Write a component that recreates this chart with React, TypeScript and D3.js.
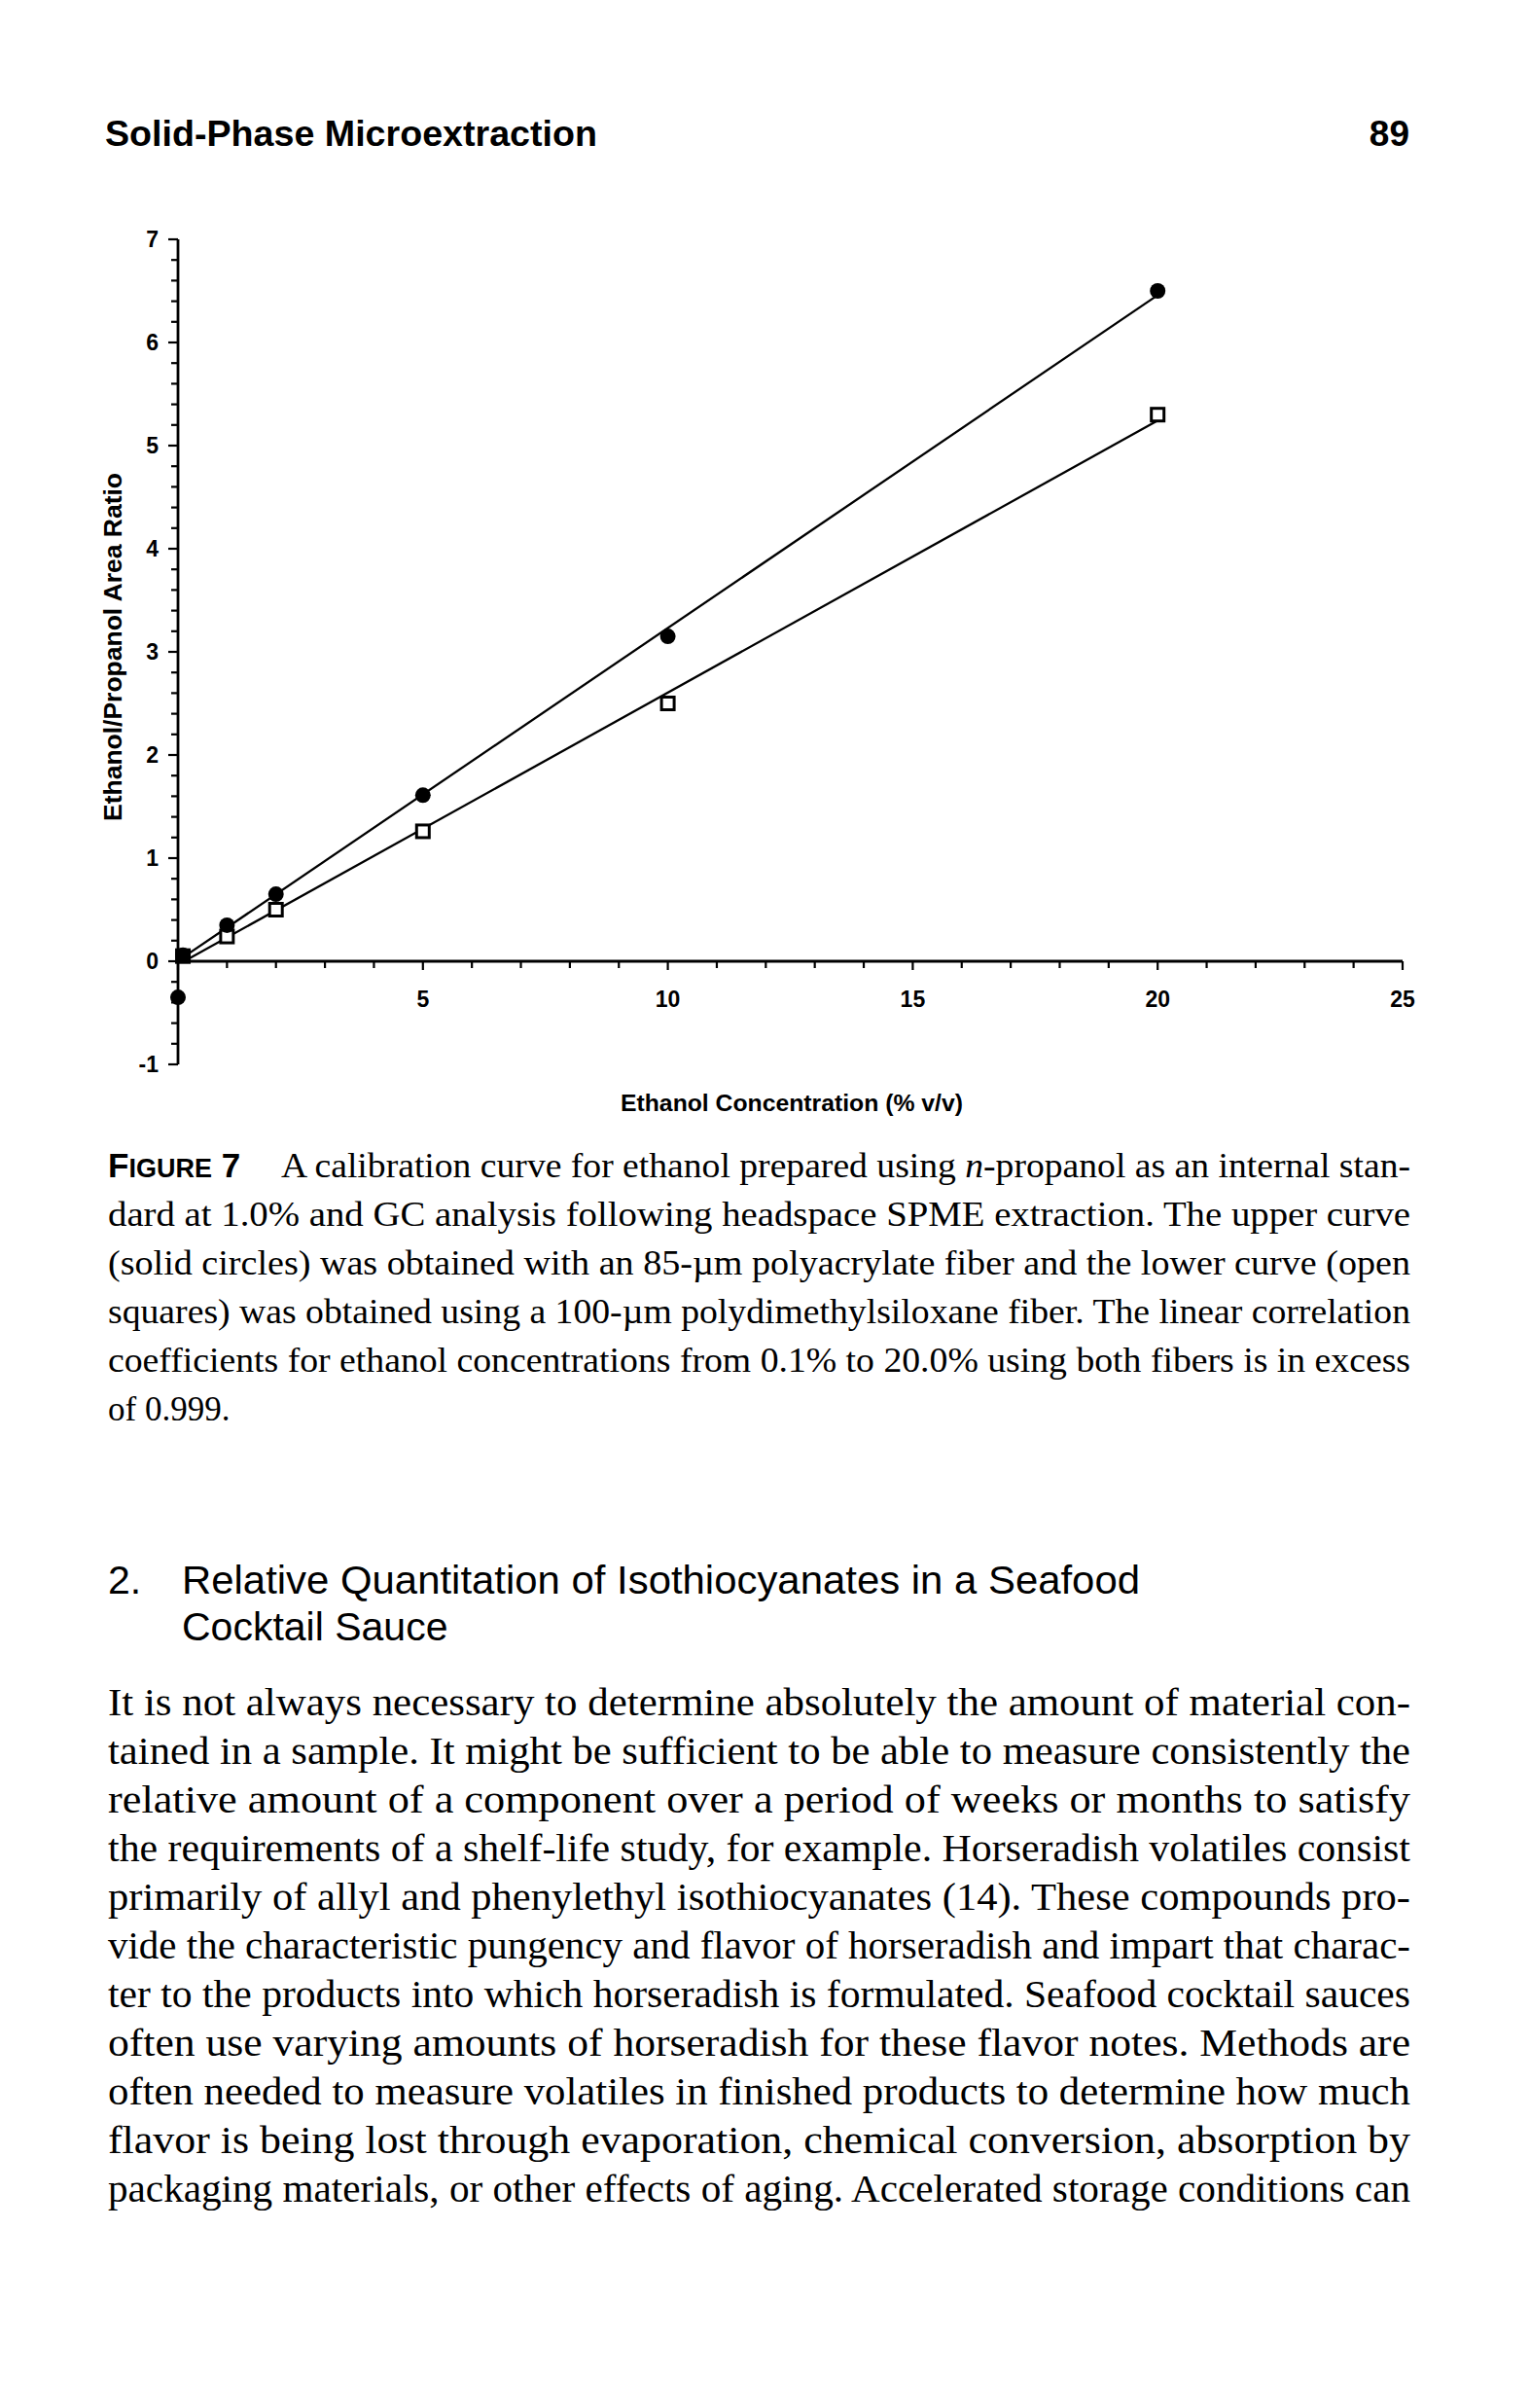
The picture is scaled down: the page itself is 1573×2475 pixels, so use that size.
import React from "react";
import * as d3 from "d3";

// ---- Data ----
const circleX = [0, 0.1, 1, 2, 5, 10, 20];
const circleY = [-0.35, 0.06, 0.35, 0.65, 1.61, 3.15, 6.5];
const squareX = [0.1, 1, 2, 5, 10, 20];
const squareY = [0.05, 0.24, 0.5, 1.26, 2.5, 5.3];

const xTickValues = [5, 10, 15, 20, 25];
const xTickLabels = ["5", "10", "15", "20", "25"];
const yTickValues = [-1, 0, 1, 2, 3, 4, 5, 6, 7];
const yTickLabels = ["-1", "0", "1", "2", "3", "4", "5", "6", "7"];
const fitRange = [0.1, 20];

const headerTitle = "Solid-Phase Microextraction";
const pageNumber = "89";
const xAxisTitle = "Ethanol Concentration (% v/v)";
const yAxisTitle = "Ethanol/Propanol Area Ratio";

const captionLines = [
  "A calibration curve for ethanol prepared using *n*-propanol as an internal stan-",
  "dard at 1.0% and GC analysis following headspace SPME extraction. The upper curve",
  "(solid circles) was obtained with an 85-\u00b5m polyacrylate fiber and the lower curve (open",
  "squares) was obtained using a 100-\u00b5m polydimethylsiloxane fiber. The linear correlation",
  "coefficients for ethanol concentrations from 0.1% to 20.0% using both fibers is in excess",
  "of 0.999.",
];

const headingLines = [
  "Relative Quantitation of Isothiocyanates in a Seafood",
  "Cocktail Sauce",
];

const bodyLines = [
  "It is not always necessary to determine absolutely the amount of material con-",
  "tained in a sample. It might be sufficient to be able to measure consistently the",
  "relative amount of a component over a period of weeks or months to satisfy",
  "the requirements of a shelf-life study, for example. Horseradish volatiles consist",
  "primarily of allyl and phenylethyl isothiocyanates (14). These compounds pro-",
  "vide the characteristic pungency and flavor of horseradish and impart that charac-",
  "ter to the products into which horseradish is formulated. Seafood cocktail sauces",
  "often use varying amounts of horseradish for these flavor notes. Methods are",
  "often needed to measure volatiles in finished products to determine how much",
  "flavor is being lost through evaporation, chemical conversion, absorption by",
  "packaging materials, or other effects of aging. Accelerated storage conditions can",
];

// ---- Layout ----
const W = 1573;
const H = 2475;
const LEFT = 111;
const RIGHT = 1450;
const SANS = "'Liberation Sans', Arial, Helvetica, sans-serif";
const SERIF = "'Liberation Serif', 'Times New Roman', Times, serif";

function fit(xs: number[], ys: number[]) {
  const pts = xs.map((x, i) => [x, ys[i]]).filter((p) => p[0] > 0);
  const mx = d3.mean(pts, (p) => p[0]) as number;
  const my = d3.mean(pts, (p) => p[1]) as number;
  const sxy = d3.sum(pts, (p) => (p[0] - mx) * (p[1] - my));
  const sxx = d3.sum(pts, (p) => (p[0] - mx) * (p[0] - mx));
  const slope = sxy / sxx;
  const icpt = my - slope * mx;
  return fitRange.map((x) => [x, icpt + slope * x] as [number, number]);
}

function renderSegments(line: string) {
  const parts = line.split("*");
  return parts.map((p, i) =>
    i % 2 === 1 ? (
      <tspan key={i} fontStyle="italic">
        {p}
      </tspan>
    ) : (
      <tspan key={i}>{p}</tspan>
    )
  );
}

export default function App() {
  const x = d3.scaleLinear().domain([0, 25]).range([183, 1442]);
  const y = d3.scaleLinear().domain([-1, 7]).range([1094, 246]);

  const lineGen = d3
    .line<[number, number]>()
    .x((d) => x(d[0]))
    .y((d) => y(d[1]));

  const circleFit = fit(circleX, circleY);
  const squareFit = fit(squareX, squareY);

  const yMinor = d3.range(-10, 71, 2).map((v) => v / 10);
  const xMinor = d3.range(0, 26, 1);

  const captionY0 = 1210;
  const captionDy = 50;
  const bodyY0 = 1763;
  const bodyDy = 50;

  return (
    <svg
      width={W}
      height={H}
      viewBox={`0 0 ${W} ${H}`}
      style={{ position: "absolute", left: 0, top: 0, display: "block", background: "#fff" }}
    >
      <rect x={0} y={0} width={W} height={H} fill="#fff" />

      {/* running header */}
      <text x={108} y={150} fontFamily={SANS} fontWeight="bold" fontSize={37} textLength={506} lengthAdjust="spacingAndGlyphs">
        {headerTitle}
      </text>
      <text x={1449} y={150} fontFamily={SANS} fontWeight="bold" fontSize={37} textAnchor="end">
        {pageNumber}
      </text>

      {/* ---- chart ---- */}
      <g stroke="#000" fill="none">
        <line x1={x(0)} x2={x(0)} y1={y(7)} y2={y(-1)} strokeWidth={2.8} />
        {yMinor.map((v, i) => (
          <line
            key={"ym" + i}
            x1={x(0)}
            x2={x(0) - (Number.isInteger(v) ? 10 : 7)}
            y1={y(v)}
            y2={y(v)}
            strokeWidth={2.2}
          />
        ))}
        <line x1={x(0)} x2={x(25)} y1={y(0)} y2={y(0)} strokeWidth={2.8} />
        {xMinor.map((v) => (
          <line
            key={"xm" + v}
            x1={x(v)}
            x2={x(v)}
            y1={y(0)}
            y2={y(0) + (v % 5 === 0 ? 9 : 7)}
            strokeWidth={2.2}
          />
        ))}
        <path d={lineGen(circleFit) as string} strokeWidth={2.3} />
        <path d={lineGen(squareFit) as string} strokeWidth={2.3} />
      </g>

      {squareX.map((sx, i) => (
        <rect
          key={"sq" + i}
          x={x(sx) - 6.5}
          y={y(squareY[i]) - 6.5}
          width={13}
          height={13}
          fill="#fff"
          stroke="#000"
          strokeWidth={3}
        />
      ))}
      {circleX.map((cx, i) => (
        <circle key={"c" + i} cx={x(cx)} cy={y(circleY[i])} r={8} fill="#000" />
      ))}

      {yTickValues.map((v, i) => (
        <text
          key={"yl" + i}
          x={163}
          y={y(v)}
          dy="0.36em"
          textAnchor="end"
          fontFamily={SANS}
          fontWeight="bold"
          fontSize={23}
        >
          {yTickLabels[i]}
        </text>
      ))}
      {xTickValues.map((v, i) => (
        <text
          key={"xl" + i}
          x={x(v)}
          y={1035}
          textAnchor="middle"
          fontFamily={SANS}
          fontWeight="bold"
          fontSize={23}
        >
          {xTickLabels[i]}
        </text>
      ))}

      <text
        x={638}
        y={1142}
        fontFamily={SANS}
        fontWeight="bold"
        fontSize={24}
        textLength={352}
        lengthAdjust="spacingAndGlyphs"
      >
        {xAxisTitle}
      </text>
      <text
        transform={`translate(125,${665}) rotate(-90)`}
        textAnchor="middle"
        fontFamily={SANS}
        fontWeight="bold"
        fontSize={25}
        textLength={358}
        lengthAdjust="spacingAndGlyphs"
      >
        {yAxisTitle}
      </text>

      {/* ---- caption ---- */}
      <text x={LEFT} y={captionY0} fontFamily={SANS} fontWeight="bold">
        <tspan fontSize={35}>F</tspan>
        <tspan fontSize={27}>IGURE</tspan>
        <tspan fontSize={35}> 7</tspan>
      </text>
      {captionLines.map((ln, i) => {
        const isFirst = i === 0;
        const isLast = i === captionLines.length - 1;
        const x0 = isFirst ? 289 : LEFT;
        return (
          <text
            key={"cap" + i}
            x={x0}
            y={captionY0 + i * captionDy}
            fontFamily={SERIF}
            fontSize={35}
            textLength={isLast ? undefined : RIGHT - x0}
            lengthAdjust="spacingAndGlyphs"
          >
            {renderSegments(ln)}
          </text>
        );
      })}

      {/* ---- section heading ---- */}
      <text x={LEFT} y={1638} fontFamily={SANS} fontSize={41}>
        2.
      </text>
      <text x={187} y={1638} fontFamily={SANS} fontSize={41} textLength={985} lengthAdjust="spacingAndGlyphs">
        {headingLines[0]}
      </text>
      <text x={187} y={1686} fontFamily={SANS} fontSize={41}>
        {headingLines[1]}
      </text>

      {/* ---- body text ---- */}
      {bodyLines.map((ln, i) => (
        <text
          key={"b" + i}
          x={LEFT}
          y={bodyY0 + i * bodyDy}
          fontFamily={SERIF}
          fontSize={40}
          textLength={RIGHT - LEFT}
          lengthAdjust="spacingAndGlyphs"
        >
          {ln}
        </text>
      ))}
    </svg>
  );
}
